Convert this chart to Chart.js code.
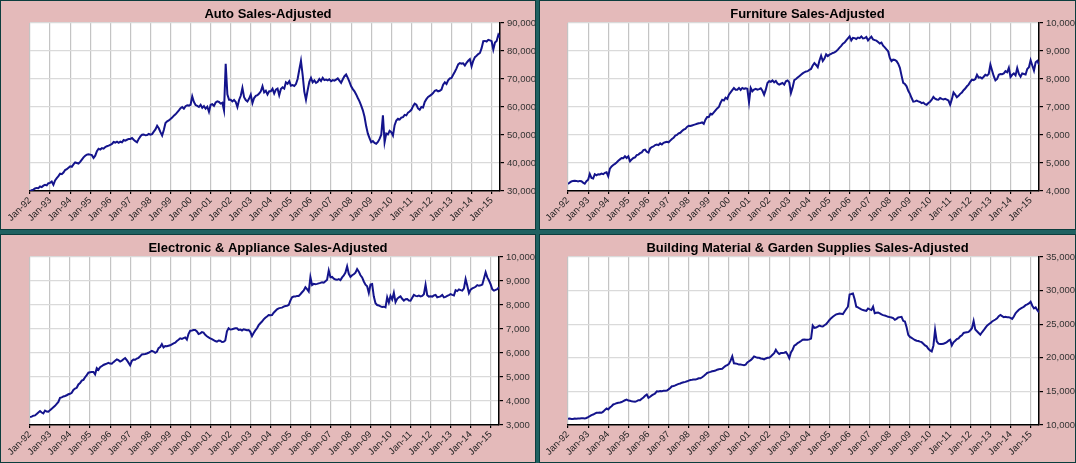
<!DOCTYPE html>
<html lang="en">
<head>
<meta charset="UTF-8">
<title>Retail Sales-Adjusted</title>
<script src="https://cdn.jsdelivr.net/npm/chart.js"></script>
<style>
  html, body { margin: 0; padding: 0; }
  body { width: 1076px; height: 463px; background: #1f6161; position: relative; overflow: hidden; }
  .panel { position: absolute; background: #e4baba; box-shadow: 0 0 0 1px #0c3d3d; }
</style>
</head>
<body>
<div class="panel" style="left:1px;top:1px;width:534px;height:228px"><canvas id="autoChart"></canvas></div>
<div class="panel" style="left:540px;top:1px;width:535px;height:228px"><canvas id="furnChart"></canvas></div>
<div class="panel" style="left:1px;top:235px;width:534px;height:227px"><canvas id="elecChart"></canvas></div>
<div class="panel" style="left:540px;top:235px;width:535px;height:227px"><canvas id="buildChart"></canvas></div>
<script>
// monthly values Jan-92 .. Jun-15
const yearTicks = ['Jan-92','Jan-93','Jan-94','Jan-95','Jan-96','Jan-97','Jan-98','Jan-99','Jan-00','Jan-01','Jan-02','Jan-03',
  'Jan-04','Jan-05','Jan-06','Jan-07','Jan-08','Jan-09','Jan-10','Jan-11','Jan-12','Jan-13','Jan-14','Jan-15'];
const monthNames = ['Jan','Feb','Mar','Apr','May','Jun','Jul','Aug','Sep','Oct','Nov','Dec'];
const lastMonth = 6; // series stops at Jun-15

const autoSales = [
  30000, 30300, 30500, 30900, 31100, 31000, 31600, 31400, 31900, 32200, 32000, 32800,
  32900, 33400, 32200, 33800, 34600, 35300, 36200, 36000, 36600, 37500, 37800, 38300,
  38800, 38600, 39500, 40200, 40000, 39800, 40400, 41200, 42000, 42600, 43000, 43100,
  43000, 42800, 41800, 42600, 44200, 45100, 44800, 45300, 45100, 45700, 46000, 46200,
  46500, 46800, 47500, 47300, 47600, 47200, 47600, 47400, 48200, 48000, 48300, 48600,
  48600, 48900, 48300, 47800, 47400, 48600, 49500, 50100, 50200, 49900, 50000, 50400,
  50100, 50300, 51200, 52000, 53300, 52400, 51000, 49800, 51800, 54300, 54900, 55200,
  55700, 56200, 56900, 57400, 58100, 58800, 59600, 60000, 59400, 60300, 60600, 60500,
  60800, 63800, 61800, 60700, 60400, 60000, 60800, 59700, 60300, 59400, 60100, 58300,
  60800, 61000, 60400, 61600, 62000, 61800, 61200, 61500, 58800, 75400, 64500, 62600,
  62600, 62000, 62500, 61800, 60000, 62500, 64000, 66800, 63500, 62500, 62000, 63000,
  64400, 61400, 63200, 64000, 64200, 64800, 65600, 67400, 65200, 65800, 64500, 65600,
  65600, 66500, 64800, 66200, 66600, 64200, 66400, 67000, 66600, 68800, 68300, 69200,
  67600, 67800, 67500, 68200, 70000, 73300, 76500, 71500, 65500, 62600, 66000, 69000,
  70400, 68800, 69500, 68600, 69000, 70000, 69300, 70400, 69600, 69800, 69500, 69900,
  69200, 69600, 69400, 69800, 70200, 69400, 68600, 69900, 71000, 71600, 70400, 69000,
  67400, 66400, 65600, 64500, 63200, 62000, 60500, 58800, 56500, 53100, 50500, 48900,
  47400, 47800, 47200, 46900, 47500, 48600, 50100, 57000, 47400, 50500, 50200, 51500,
  51000, 49800, 53500, 55200, 55800, 55500, 56200, 56400, 57200, 57000, 58000, 58400,
  59000, 60300, 61200, 60800, 59500, 59000, 60000, 59800, 61800, 62800, 63600, 64000,
  64400, 65000, 65800, 66000, 65600, 65800, 66200, 68000, 68800, 68200, 69500, 70200,
  70400, 71500, 72600, 73800, 75200, 75700, 75500, 75600, 74800, 75800, 76500, 77100,
  74500, 76500, 77800, 78300, 78900, 79300, 81000, 83500, 83600, 83400, 84000, 83800,
  83500, 80500, 83000, 83600, 85800, 84800
];

const furnitureSales = [
  4250, 4300, 4340, 4360, 4370, 4360, 4340, 4360, 4350, 4300, 4260, 4350,
  4400, 4610, 4470, 4450, 4600, 4560, 4600, 4590, 4620, 4600, 4650, 4670,
  4530, 4800, 4880, 4930, 4970, 5020, 5080, 5130, 5180, 5170, 5240, 5180,
  5240, 5060, 5130, 5180, 5200, 5280, 5300, 5350, 5380, 5460, 5480, 5400,
  5370, 5520, 5570, 5590, 5640, 5660, 5640, 5700, 5660, 5720, 5740, 5760,
  5740, 5800, 5860, 5900, 5980, 6000, 6060, 6080, 6140, 6190, 6220, 6290,
  6330, 6320, 6340, 6360, 6380, 6400, 6420, 6430, 6450, 6400, 6550, 6640,
  6640, 6760, 6740, 6810, 6880, 6950, 7000, 7150, 7260, 7230, 7330, 7290,
  7440, 7520, 7600, 7680, 7620, 7620, 7680, 7610, 7680, 7650, 7670, 7650,
  7170, 7680, 7560, 7620, 7650, 7620, 7640, 7670, 7580, 7440, 7620, 7860,
  7920, 7900, 7950, 7880, 7930, 7840, 7800, 7830, 7860, 7800, 7920, 7950,
  7880, 7500, 7700, 7960, 8000, 8050, 8100, 8150, 8200, 8240, 8270, 8280,
  8330, 8360, 8480, 8570, 8500, 8420, 8650, 8830, 8640, 8730, 8880, 8820,
  8870, 8900, 8930, 8950, 8990, 9050, 9120, 9180, 9260, 9300, 9380, 9450,
  9520, 9380, 9470, 9460, 9430, 9480, 9460, 9520, 9450, 9460, 9500, 9380,
  9450, 9510, 9410, 9390, 9370, 9320, 9270, 9300, 9190, 9130, 9060, 8990,
  8750, 8640, 8690, 8680, 8640, 8550, 8400, 8120, 7860, 7820, 7740, 7580,
  7470, 7320, 7190, 7200, 7230, 7200, 7180, 7140, 7160, 7100, 7080, 7140,
  7190, 7260, 7360, 7300, 7270, 7260, 7320, 7290, 7270, 7290, 7260, 7230,
  7080, 7280, 7520, 7440, 7350, 7400, 7470, 7520, 7600, 7660, 7740, 7800,
  7900, 7980, 7960, 8000, 8150, 8050, 8060, 8020, 8080, 8150, 8120, 8180,
  8510, 8300, 8100, 7950, 8000, 8150, 8180, 8170, 8200, 8280, 8240, 8400,
  8070, 8150, 8200, 8130, 8390, 8180, 8080, 8200, 8180, 8160, 8360, 8420,
  8670, 8480, 8300, 8600, 8650, 8510
];

const electronicSales = [
  3330, 3350, 3390, 3400, 3460, 3520, 3580, 3520, 3480, 3600, 3560, 3550,
  3620, 3680, 3740, 3800, 3880, 3960, 4130, 4150, 4190, 4210, 4240, 4280,
  4300, 4340, 4460, 4520, 4550, 4690, 4750, 4850, 4880, 4990, 5080, 5180,
  5200, 5210, 5210, 5110, 5370, 5300, 5410, 5450, 5500, 5530, 5560, 5590,
  5560, 5550, 5620, 5680, 5730, 5700, 5640, 5680, 5740, 5790, 5700, 5600,
  5490, 5670, 5730, 5720, 5770, 5800, 5860, 5940, 5950, 5960, 5980, 6010,
  6050, 6090, 6060, 6010, 6050, 6200, 6250, 6370, 6230, 6290, 6280, 6300,
  6320, 6360, 6400, 6430, 6500, 6550, 6610, 6590, 6620, 6650, 6560, 6800,
  6930, 6940, 6960, 6960, 6900, 6790, 6820, 6870, 6850, 6760, 6700, 6650,
  6610, 6580, 6540, 6500, 6470, 6520, 6510, 6460, 6470, 6520, 6900, 7030,
  6980, 6990, 7010, 7030, 7030, 6960, 6980, 6940, 6990, 6970, 6950, 6960,
  6880, 6700, 6830, 6940, 7030, 7160, 7240, 7310, 7400, 7470, 7520, 7580,
  7570, 7580, 7680, 7750, 7820, 7860, 7880, 7890, 7930, 7960, 7970, 8000,
  8180, 8320, 8350, 8350, 8380, 8380, 8450, 8530, 8610, 8740, 8660, 8560,
  9160, 8830, 8880, 8870, 8880, 8900, 8920, 8950, 8930, 8990, 9050, 9440,
  9160, 9170, 9100, 9060, 9050, 9080, 9040, 9150, 9230, 9350, 9610, 9300,
  9170, 9240, 9280, 9350, 9500, 9390, 9240, 9150, 8980, 8850, 8780, 8500,
  8850, 8870, 8350, 8070, 8000, 7980, 7940, 7920, 7930, 7900, 8320, 8100,
  8380, 8230, 8510, 8120, 8260, 8320, 8360, 8260, 8180, 8240, 8250, 8190,
  8180, 8300, 8420, 8380, 8370, 8390, 8360, 8380, 8450, 8840, 8410, 8350,
  8360, 8350, 8400, 8420, 8320, 8340, 8360, 8420, 8320, 8340, 8380, 8410,
  8450, 8420, 8400, 8620, 8580, 8650, 8620, 8600, 8690, 9080, 8800, 8490,
  8640, 8690, 8720, 8760, 8830, 8800, 8820, 8850, 9100, 9360, 9150, 9020,
  8860, 8650, 8600, 8630, 8660, 8740
];

const buildingSales = [
  10930, 10970, 10900, 10880, 10950, 10920, 10960, 10980, 11000, 10990, 10980, 11050,
  11170, 11320, 11480, 11560, 11700, 11820, 11830, 11860, 11820, 11990, 12250, 12460,
  12310, 12600, 12800, 13060, 13150, 13250, 13310, 13360, 13420, 13550, 13680, 13790,
  13640, 13600, 13520, 13480, 13450, 13550, 13700, 13700, 13900, 14100, 14350, 14540,
  14050, 14200, 14400, 14540, 14700, 15030, 15000, 15050, 15030, 15080, 15100, 15130,
  15300, 15500, 15770, 15800, 15900, 16020, 16120, 16180, 16300, 16360, 16420, 16500,
  16610, 16700, 16720, 16760, 16760, 16850, 16950, 16950, 17110, 17300, 17500, 17740,
  17830, 17900, 17990, 18050, 18100, 18230, 18300, 18350, 18380, 18600, 18800, 18900,
  19100, 19570, 20210, 19190, 19150, 19100, 18990, 19000, 18950, 18900, 18980, 19300,
  19480, 19650, 19900, 20210, 20100, 20000, 20010, 19900, 19850, 19760, 19900, 20010,
  20010, 20200, 20450, 20700, 21200, 20800, 20560, 20700, 20700, 20750, 20850, 20500,
  19960, 20800, 21200, 21800, 21950, 22200, 22330, 22500, 22700, 22720, 22700, 22700,
  22740, 22850, 24790, 24450, 24500, 24650, 24790, 24700, 24650, 24850, 25000, 25300,
  25630, 25900, 26120, 26300, 26460, 26520, 26580, 26560, 26500, 26900, 27260, 27600,
  29430, 29500, 29580, 28720, 27600, 27500, 27340, 27200, 27100, 27050, 26990, 27340,
  27200, 27100, 27600, 26620, 26700, 26750, 26600, 26450, 26350, 26300, 26200, 26100,
  26050, 26000, 25900, 25650, 25800, 26000, 26050, 26100, 25500, 25400, 24540, 23410,
  23100, 22950, 22800, 22650, 22550, 22500, 22400, 22330, 22100, 21840, 21700, 21350,
  21100, 20950, 21800, 24150, 22450, 22100, 22050, 22060, 22080, 22200, 22330, 22550,
  22680, 21850, 22300, 22530, 22800, 22900, 23190, 23350, 23700, 23750, 23800, 23850,
  24100, 24400, 25480, 24200, 23950, 23700, 23450, 23800, 24100, 24450, 24790, 25000,
  25150, 25400, 25550, 25700, 25880, 26200, 26370, 26200, 26030, 26100, 26050, 26030,
  25950, 25800, 26150, 26620, 26900, 27150, 27320, 27450, 27600, 27830, 27950, 28100,
  28350, 27750, 27350, 27500, 27100, 26760
];

// month categories built from the year tick labels
const categories = [];
yearTicks.forEach((t, yi) => {
  const yy = t.slice(4);
  const n = yi === yearTicks.length - 1 ? lastMonth : 12;
  for (let m = 0; m < n; m++) categories.push(monthNames[m] + '-' + yy);
});

const lineColor = '#14148c';
const fontFamily = "'Liberation Sans', Arial, sans-serif";

// white plot area behind the grid
const plotBg = {
  id: 'plotBg',
  beforeDraw(chart) {
    const a = chart.chartArea, ctx = chart.ctx;
    ctx.save();
    ctx.fillStyle = '#fff';
    ctx.fillRect(a.left, a.top, a.right - a.left, a.bottom - a.top);
    ctx.restore();
  }
};

function makeChart(id, title, values, yMin, yMax, yStep, padLeft, axisW, axisH) {
  // x is the month position in the categories list
  const points = values.map((v, i) => ({ x: i, y: v }));
  return new Chart(document.getElementById(id), {
    type: 'line',
    data: {
      labels: categories,
      datasets: [{
        data: points, xAxisID: 'x', yAxisID: 'y',
        borderColor: lineColor, borderWidth: 2, pointRadius: 0, tension: 0, fill: false
      }]
    },
    options: {
      responsive: true,
      maintainAspectRatio: false,
      animation: false,
      layout: { padding: 0 },
      plugins: {
        legend: { display: false },
        tooltip: { enabled: false },
        title: {
          display: true, text: title, color: '#000',
          font: { family: fontFamily, size: 13, weight: 'bold' },
          padding: { top: 6, bottom: 0.4 }
        }
      },
      scales: {
        x: {
          type: 'linear', min: 0, max: categories.length - 1,
          grid: { color: '#c4c4c4', lineWidth: 1.2, tickLength: 3, tickColor: '#000' },
          border: { color: '#000', width: 1.5 },
          ticks: {
            stepSize: 12, includeBounds: false, autoSkip: false,
            minRotation: 45, maxRotation: 45, padding: 1,
            color: '#222', font: { family: fontFamily, size: 9.5 },
            callback: v => categories[v]
          },
          afterFit: s => { s.height = axisH; }
        },
        y: {
          position: 'right', min: yMin, max: yMax,
          grid: { color: '#dadada', lineWidth: 1.2, tickLength: 4, tickColor: '#000' },
          border: { color: '#000', width: 1.5 },
          ticks: {
            stepSize: yStep, padding: 3, color: '#333',
            font: { family: fontFamily, size: 9.5 },
            callback: v => v.toLocaleString('en-US')
          },
          afterFit: s => { s.width = axisW; }
        },
        // empty left strip so the plot starts where the picture's does
        gutter: {
          type: 'linear', axis: 'y', position: 'left', display: true,
          grid: { display: false, drawTicks: false },
          border: { display: false },
          ticks: { display: false },
          afterFit: s => { s.width = padLeft; }
        }
      }
    },
    plugins: [plotBg]
  });
}

makeChart('autoChart', 'Auto Sales-Adjusted', autoSales, 30000, 90000, 10000, 29, 35, 38);
makeChart('furnChart', 'Furniture Sales-Adjusted', furnitureSales, 4000, 10000, 1000, 28, 36, 38);
makeChart('elecChart', 'Electronic & Appliance Sales-Adjusted', electronicSales, 3000, 10000, 1000, 29, 36, 37);
makeChart('buildChart', 'Building Material & Garden Supplies Sales-Adjusted', buildingSales, 10000, 35000, 5000, 28, 36, 37);
</script>
</body>
</html>
